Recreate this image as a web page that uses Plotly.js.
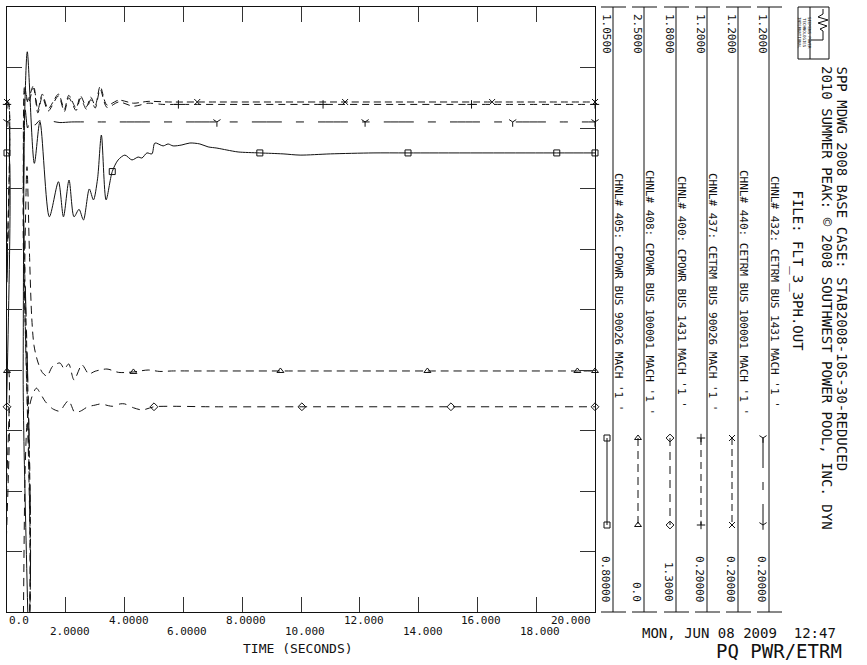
<!DOCTYPE html>
<html><head><meta charset="utf-8">
<script src="https://cdn.plot.ly/plotly-3.0.1.min.js"></script>
<style>html,body{margin:0;padding:0;background:#fff}#chart{width:867px;height:665px}</style>
</head><body><div id="chart"></div>
<script>
// ---------------- DATA ----------------
const chnlLabels = [
  "CHNL# 405: CPOWR BUS 90026 MACH '1 '",
  "CHNL# 408: CPOWR BUS 100001 MACH '1 '",
  "CHNL# 400: CPOWR BUS 1431 MACH '1 '",
  "CHNL# 437: CETRM BUS 90026 MACH '1 '",
  "CHNL# 440: CETRM BUS 100001 MACH '1 '",
  "CHNL# 432: CETRM BUS 1431 MACH '1 '"
];
const scaleMax = [1.05, 2.5, 1.8, 1.2, 1.2, 1.2];
const scaleMin = [0.8, 0.0, 1.3, 0.2, 0.2, 0.2];
const maxLabels = ["1.0500", "2.5000", "1.8000", "1.2000", "1.2000", "1.2000"];
const minLabels = ["0.80000", "0.0", "1.3000", "0.20000", "0.20000", "0.20000"];
const xTickVals = [0, 2, 4, 6, 8, 10, 12, 14, 16, 18, 20];
const xTickText = ["0.0", "2.0000", "4.0000", "6.0000", "8.0000", "10.000", "12.000", "14.000", "16.000", "18.000", "20.000"];

const t405 = [0, 0.05, 0.06, 0.52, 0.55, 0.6, 0.69, 0.93, 1.12, 1.44, 1.75, 1.92, 2.11, 2.28, 2.45, 2.6, 2.8, 2.94, 3.08, 3.21, 3.37, 3.58, 3.78, 4.01, 4.25, 4.46, 4.59, 4.76, 4.93, 5.03, 5.31, 5.48, 5.65, 5.95, 6.22, 6.56, 6.84, 7.14, 7.48, 7.86, 8.6, 9.39, 9.97, 11.0, 12.45, 13.64, 18.7, 20];
const v405 = [0.9897, 0.9897, 0.60, 0.60, 0.90, 1.005, 1.0315, 0.9854, 1.0026, 0.9633, 0.9778, 0.9633, 0.9785, 0.9633, 0.9664, 0.962, 0.9748, 0.9703, 0.979, 0.9971, 0.9703, 0.9820, 0.9868, 0.9888, 0.9868, 0.988, 0.9876, 0.9897, 0.9893, 0.9938, 0.9926, 0.9934, 0.9926, 0.993, 0.9938, 0.9934, 0.9922, 0.9917, 0.9909, 0.9901, 0.9897, 0.9893, 0.9888, 0.9893, 0.9897, 0.9897, 0.9897, 0.9897];

const t408 = [0, 0.05, 0.07, 0.52, 0.6, 0.68, 0.76, 0.84, 0.92, 1.05, 1.2, 1.36, 1.55, 1.8, 1.95, 2.1, 2.28, 2.55, 2.78, 3.0, 3.4, 3.8, 4.3, 4.8, 5.2, 5.6, 6.5, 9.3, 14.3, 19.4, 20];
const v408 = [0.996, 0.996, -0.3, -0.3, 1.4, 1.84, 1.5, 1.22, 1.10, 1.033, 0.99, 0.975, 1.015, 1.029, 1.005, 1.025, 0.959, 1.021, 0.984, 0.995, 1.004, 0.99, 0.992, 1.0, 0.994, 0.996, 0.996, 0.996, 0.996, 0.996, 0.996];

const t400 = [0, 0.05, 0.08, 0.52, 0.56, 0.62, 0.7, 0.85, 1.0, 1.15, 1.3, 1.55, 1.8, 1.95, 2.1, 2.2, 2.3, 2.5, 2.75, 3.0, 3.2, 3.45, 3.6, 3.85, 4.0, 4.3, 4.6, 5.0, 5.5, 7.0, 10.03, 15.1, 20];
const v400 = [1.4696, 1.4696, 1.2, 1.2, 1.30, 1.42, 1.461, 1.478, 1.485, 1.48, 1.474, 1.468, 1.466, 1.471, 1.475, 1.47, 1.465, 1.466, 1.4696, 1.471, 1.472, 1.4705, 1.47, 1.472, 1.472, 1.4688, 1.467, 1.4696, 1.47, 1.4696, 1.4696, 1.4696, 1.4696];

const t437 = [0, 0.05, 0.07, 0.52, 0.55, 0.62, 0.72, 0.9, 1.05, 1.2, 1.4, 1.75, 1.95, 2.1, 2.35, 2.5, 2.7, 2.85, 3.0, 3.17, 3.4, 3.8, 4.3, 4.8, 5.3, 5.83, 10.75, 15.8, 20];
const v437 = [1.039, 1.039, 0.1, 0.1, 0.85, 1.065, 1.04, 1.066, 1.025, 1.052, 1.028, 1.053, 1.027, 1.050, 1.029, 1.049, 1.031, 1.047, 1.033, 1.064, 1.034, 1.043, 1.036, 1.041, 1.039, 1.039, 1.039, 1.039, 1.039];

const t440 = [0, 0.05, 0.07, 0.52, 0.55, 0.6, 0.7, 0.9, 1.05, 1.2, 1.4, 1.75, 1.95, 2.1, 2.35, 2.5, 2.7, 2.85, 3.0, 3.17, 3.4, 3.8, 4.3, 4.8, 5.5, 6.47, 11.5, 16.5, 20];
const v440 = [1.043, 1.043, 0.1, 0.1, 0.9, 1.070, 1.045, 1.070, 1.030, 1.056, 1.032, 1.056, 1.031, 1.054, 1.033, 1.053, 1.035, 1.051, 1.037, 1.069, 1.038, 1.046, 1.041, 1.044, 1.043, 1.043, 1.043, 1.043, 1.043];

const t432 = [0, 0.05, 0.07, 0.52, 0.56, 0.62, 0.7, 0.8, 0.95, 1.1, 1.3, 1.5, 1.8, 2.2, 3.0, 7.14, 12.18, 17.2, 20];
const v432 = [1.010, 1.010, 0.1, 0.1, 0.9, 1.03, 1.0, 1.015, 1.005, 1.012, 1.008, 1.011, 1.009, 1.010, 1.010, 1.010, 1.010, 1.010, 1.010];

const mk405 = [0, 3.58, 8.6, 13.64, 18.7, 20];
const mk408 = [0, 4.3, 9.3, 14.3, 19.4, 20];
const mk400 = [0, 5.0, 10.03, 15.1, 20];
const mk437 = [0, 5.83, 10.75, 15.8, 20];
const mk440 = [0, 6.47, 11.5, 16.5, 20];
const mk432 = [0, 7.14, 12.18, 17.2, 20];

// ---------------- STYLE / LAYOUT ----------------
const W = 867, H = 665;
const FONT = "DejaVu Sans Mono";
const INK = "#111";
const PX = x => x / W, PY = y => 1 - y / H;
const plotL = 7, plotR = 595, plotT = 7, plotB = 612;

const series = [
  {t: t405, v: v405, mk: mk405, sym: 'square-open', dash: 'solid'},
  {t: t408, v: v408, mk: mk408, sym: 'triangle-up-open', dash: '8px,5px'},
  {t: t400, v: v400, mk: mk400, sym: 'diamond-open', dash: '8px,6px'},
  {t: t437, v: v437, mk: mk437, sym: 'cross-thin-open', dash: '7px,5px'},
  {t: t440, v: v440, mk: mk440, sym: 'x-thin-open', dash: '7px,4px'},
  {t: t432, v: v432, mk: mk432, sym: 'y-down-open', dash: '30px,14px,8px,14px'}
];

const traces = [];
series.forEach((s, i) => {
  const ya = i === 0 ? 'y' : 'y' + (i + 1);
  traces.push({x: s.t, y: s.v, xaxis: 'x', yaxis: ya, mode: 'lines',
    line: {color: INK, width: 1, dash: s.dash, shape: 'spline', smoothing: 0.8},
    hoverinfo: 'skip', showlegend: false});
  const my = s.mk.map(tm => s.v[s.t.indexOf(tm)]);
  traces.push({x: s.mk, y: my, xaxis: 'x', yaxis: ya, mode: 'markers', cliponaxis: false,
    marker: {symbol: s.sym, size: 6, color: INK, line: {color: INK, width: 1}},
    hoverinfo: 'skip', showlegend: false});
});

// legend panel columns
const colV = [613, 644, 676, 707, 738, 769];
series.forEach((s, i) => {
  const xv = colV[i] - 6;
  traces.push({x: [xv, xv], y: [438, 525], xaxis: 'x2', yaxis: 'y7', mode: 'lines+markers', cliponaxis: false,
    line: {color: INK, width: 1, dash: s.dash},
    marker: {symbol: s.sym, size: 6, color: INK, line: {color: INK, width: 1}},
    hoverinfo: 'skip', showlegend: false});
});

const shapes = [];
const annotations = [];
const ln = (x0, y0, x1, y1, w) => shapes.push({type: 'line', xref: 'paper', yref: 'paper',
  x0: PX(x0), y0: PY(y0), x1: PX(x1), y1: PY(y1), line: {color: INK, width: w || 1}});

colV.forEach((v, i) => {
  ln(v, plotT, v, plotB);
  ln(v - 12, plotT, v + 13, plotT);
  ln(v - 12, plotB, v + 13, plotB);
  annotations.push({xref: 'paper', yref: 'paper', x: PX(v - 7), y: PY(12), xanchor: 'center', yanchor: 'top',
    text: maxLabels[i], textangle: 90, showarrow: false, font: {family: FONT, size: 11, color: INK}});
  annotations.push({xref: 'paper', yref: 'paper', x: PX(v - 7), y: PY(604), xanchor: 'center', yanchor: 'bottom',
    text: minLabels[i], textangle: 90, showarrow: false, font: {family: FONT, size: 11, color: INK}});
  annotations.push({xref: 'paper', yref: 'paper', x: PX(v + 6), y: PY(292), xanchor: 'center', yanchor: 'middle',
    text: chnlLabels[i], textangle: 90, showarrow: false, font: {family: FONT, size: 11, color: INK}});
});

// x tick labels (two staggered rows)
xTickVals.forEach((tv, i) => {
  const upper = i % 2 === 0;
  let xa = 'center', xs = 4;
  if (i === 0) { xa = 'left'; xs = 0; }
  if (i === xTickVals.length - 1) { xa = 'right'; xs = -2; }
  annotations.push({xref: 'x', yref: 'paper', x: tv, xshift: xs, y: PY(upper ? 620 : 631), xanchor: xa, yanchor: 'middle',
    text: xTickText[i], showarrow: false, font: {family: FONT, size: 11, color: INK}});
});
annotations.push({xref: 'paper', yref: 'paper', x: PX(298), y: PY(648), xanchor: 'center', yanchor: 'middle',
  text: 'TIME (SECONDS)', showarrow: false, font: {family: FONT, size: 13, color: INK}});

// titles (rotated)
annotations.push({xref: 'paper', yref: 'paper', x: PX(841), y: PY(64), xanchor: 'center', yanchor: 'top',
  text: 'SPP MDWG 2008 BASE CASE: STAB2008-10S-30-REDUCED', textangle: 90, showarrow: false,
  font: {family: FONT, size: 14, color: INK}});
annotations.push({xref: 'paper', yref: 'paper', x: PX(827), y: PY(64), xanchor: 'center', yanchor: 'top',
  text: '2010 SUMMER PEAK: \u00A9 2008 SOUTHWEST POWER POOL, INC. DYN', textangle: 90, showarrow: false,
  font: {family: FONT, size: 14, color: INK}});
annotations.push({xref: 'paper', yref: 'paper', x: PX(797), y: PY(188), xanchor: 'center', yanchor: 'top',
  text: 'FILE: FLT_3_3PH.OUT', textangle: 90, showarrow: false,
  font: {family: FONT, size: 14, color: INK}});

// date and plot id
annotations.push({xref: 'paper', yref: 'paper', x: PX(838), y: PY(633), xanchor: 'right', yanchor: 'middle',
  text: 'MON, JUN 08 2009\u00A0\u00A012:47', showarrow: false, font: {family: FONT, size: 14, color: INK}});
annotations.push({xref: 'paper', yref: 'paper', x: PX(844), y: PY(664), xanchor: 'right', yanchor: 'bottom',
  text: 'PQ PWR/ETRM', showarrow: false, font: {family: FONT, size: 19, color: INK}});

// logo box
shapes.push({type: 'rect', xref: 'paper', yref: 'paper', x0: PX(798), y0: PY(7), x1: PX(829), y1: PY(59),
  line: {color: INK, width: 1}});
ln(810, 7, 810, 59);
shapes.push({type: 'path', xref: 'paper', yref: 'paper',
  path: 'M ' + PX(823) + ' ' + PY(9) + ' L ' + PX(823) + ' ' + PY(14) + ' L ' + PX(818) + ' ' + PY(17) +
        ' L ' + PX(828) + ' ' + PY(20) + ' L ' + PX(818) + ' ' + PY(23) + ' L ' + PX(827) + ' ' + PY(26) +
        ' L ' + PX(820) + ' ' + PY(29) + ' L ' + PX(823) + ' ' + PY(31) + ' L ' + PX(823) + ' ' + PY(40) +
        ' L ' + PX(811) + ' ' + PY(40),
  line: {color: INK, width: 1}});
annotations.push({xref: 'paper', yref: 'paper', x: PX(804), y: PY(33), xanchor: 'center', yanchor: 'middle',
  text: 'SIEMENS POWER<br>TECHNOLOGIES<br>INTERNATIONAL', textangle: 90, showarrow: false,
  font: {family: FONT, size: 4, color: INK}});

const yDom = [PY(plotB), PY(plotT)];
const layout = {
  width: W, height: H, margin: {l: 0, r: 0, t: 0, b: 0},
  paper_bgcolor: '#fff', plot_bgcolor: 'rgba(0,0,0,0)', showlegend: false,
  xaxis: {domain: [PX(plotL), PX(plotR)], range: [0, 20], showline: true, mirror: 'ticks', linecolor: INK, linewidth: 1,
    ticks: 'inside', ticklen: 15, tickcolor: '#333', tickwidth: 1, tickmode: 'linear', tick0: 0, dtick: 2,
    showticklabels: false, showgrid: false, zeroline: false, anchor: 'y'},
  yaxis: {domain: yDom, range: [scaleMin[0], scaleMax[0]], showline: true, mirror: 'ticks', linecolor: INK, linewidth: 1,
    ticks: 'inside', ticklen: 15, tickcolor: '#333', tickwidth: 1, tickmode: 'linear', tick0: scaleMin[0],
    dtick: (scaleMax[0] - scaleMin[0]) / 10, showticklabels: false, showgrid: false, zeroline: false, anchor: 'x'},
  xaxis2: {domain: [0, 1], range: [0, W], visible: false, anchor: 'y7', fixedrange: true},
  yaxis7: {domain: [0, 1], range: [H, 0], visible: false, anchor: 'x2', fixedrange: true},
  shapes: shapes, annotations: annotations
};
for (let i = 1; i < 6; i++) {
  layout['yaxis' + (i + 1)] = {domain: yDom, range: [scaleMin[i], scaleMax[i]], overlaying: 'y', anchor: 'x',
    visible: false, showgrid: false, zeroline: false};
}
Plotly.newPlot('chart', traces, layout, {staticPlot: true, displayModeBar: false});
</script></body></html>
